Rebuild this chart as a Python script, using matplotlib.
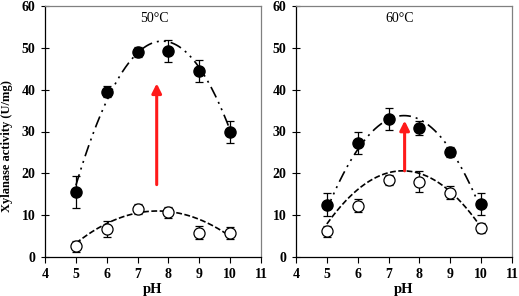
import numpy as np
import matplotlib
matplotlib.use("Agg")
import matplotlib.pyplot as plt

ph = [5, 6, 7, 8, 9, 10]
# 50 °C
filled_50 = [15.5, 39.5, 49.0, 49.3, 44.5, 29.8]
filled_50_err = [3.8, 1.3, 1.2, 2.6, 2.6, 2.6]
open_50 = [2.6, 6.7, 11.5, 10.7, 5.8, 5.7]
open_50_err = [1.3, 1.8, 1.2, 1.3, 1.6, 1.5]
# 60 °C
filled_60 = [12.5, 27.2, 33.0, 30.8, 25.1, 12.7]
filled_60_err = [2.7, 2.6, 2.6, 1.6, 1.2, 2.6]
open_60 = [6.2, 12.3, 18.5, 18.0, 15.4, 7.0]
open_60_err = [1.3, 1.6, 1.2, 2.5, 1.5, 1.2]

# quadratic trendlines: vertex pH, vertex value, curvature
trend_filled_50 = [7.8, 51.6, 4.4]
trend_open_50 = [7.65, 11.0, 1.1]
trend_filled_60 = [7.5, 33.8, 3.6]
trend_open_60 = [7.46, 20.6, 2.1]

titles = ["50\u00b0C", "60\u00b0C"]
arrows = [(7.62, 17.3, 41.5), (7.52, 20.6, 32.6)]
title_x = [7.55, 7.35]

plt.rcParams['font.family'] = ['Liberation Serif', 'DejaVu Serif']

fig = plt.figure(figsize=(5.19, 2.96), dpi=100)
ax1 = fig.add_axes([45/519, 1-257/296, 216/519, 251/296])
ax2 = fig.add_axes([296/519, 1-257/296, 216/519, 251/296])

dashdotdot = (0, (7, 3, 1.2, 3, 1.2, 3))
dashed = (0, (3.5, 1.5))

panels = [(ax1, filled_50, filled_50_err, open_50, open_50_err, trend_filled_50, trend_open_50),
          (ax2, filled_60, filled_60_err, open_60, open_60_err, trend_filled_60, trend_open_60)]


def trend(params, x):
    vx, vy, a = params
    return vy - a * (x - vx) ** 2


for i, (ax, fv, fe, ov, oe, tf, to) in enumerate(panels):
    xs = np.linspace(min(ph), max(ph), 200)
    ax.plot(xs, trend(tf, xs), color='black', lw=1.2, linestyle=dashdotdot, zorder=2)
    ax.plot(xs, trend(to, xs), color='black', lw=1.2, linestyle=dashed, zorder=2)
    ax.errorbar(ph, fv, yerr=fe, fmt='o', color='black', mfc='black', mec='black',
                ms=8, ecolor='black', elinewidth=0.9, capsize=3, capthick=0.9, zorder=3)
    ax.errorbar(ph, ov, yerr=oe, fmt='o', color='black', mfc='white', mec='black',
                ms=8, mew=0.9, ecolor='black', elinewidth=0.9, capsize=3, capthick=0.9, zorder=3)
    ax.set_xlim(4, 11)
    ax.set_ylim(0, 60)
    ax.set_xticks(range(4, 12))
    ax.set_yticks(range(0, 61, 10))
    ax.tick_params(axis='both', which='major', labelsize=10, length=4, width=0.8,
                   direction='out', pad=4)
    ax.tick_params(axis='y', direction='inout', length=6)
    for lab in ax.get_xticklabels() + ax.get_yticklabels():
        lab.set_fontweight('bold')
    for s in ['left', 'bottom']:
        ax.spines[s].set_color('black')
        ax.spines[s].set_linewidth(0.9)
    for s in ['top', 'right']:
        ax.spines[s].set_color('#808080')
        ax.spines[s].set_linewidth(0.9)
    ax.set_xlabel('pH', fontsize=10.5, fontweight='bold', labelpad=1)
    ax.text(title_x[i], 57, titles[i], fontsize=10, ha='center', va='center')
    ax_x, y0, y1 = arrows[i]
    ax.annotate('', xy=(ax_x, y1), xytext=(ax_x, y0),
                arrowprops=dict(arrowstyle='-|>', color='#ff1a1a', lw=2.2,
                                mutation_scale=14, shrinkA=0, shrinkB=0), zorder=4)

ax1.set_ylabel('Xylanase activity (U/mg)', fontsize=9, fontweight='bold')
ax1.yaxis.set_label_coords(-0.15, 0.44)

fig.savefig('out.png', dpi=100)
